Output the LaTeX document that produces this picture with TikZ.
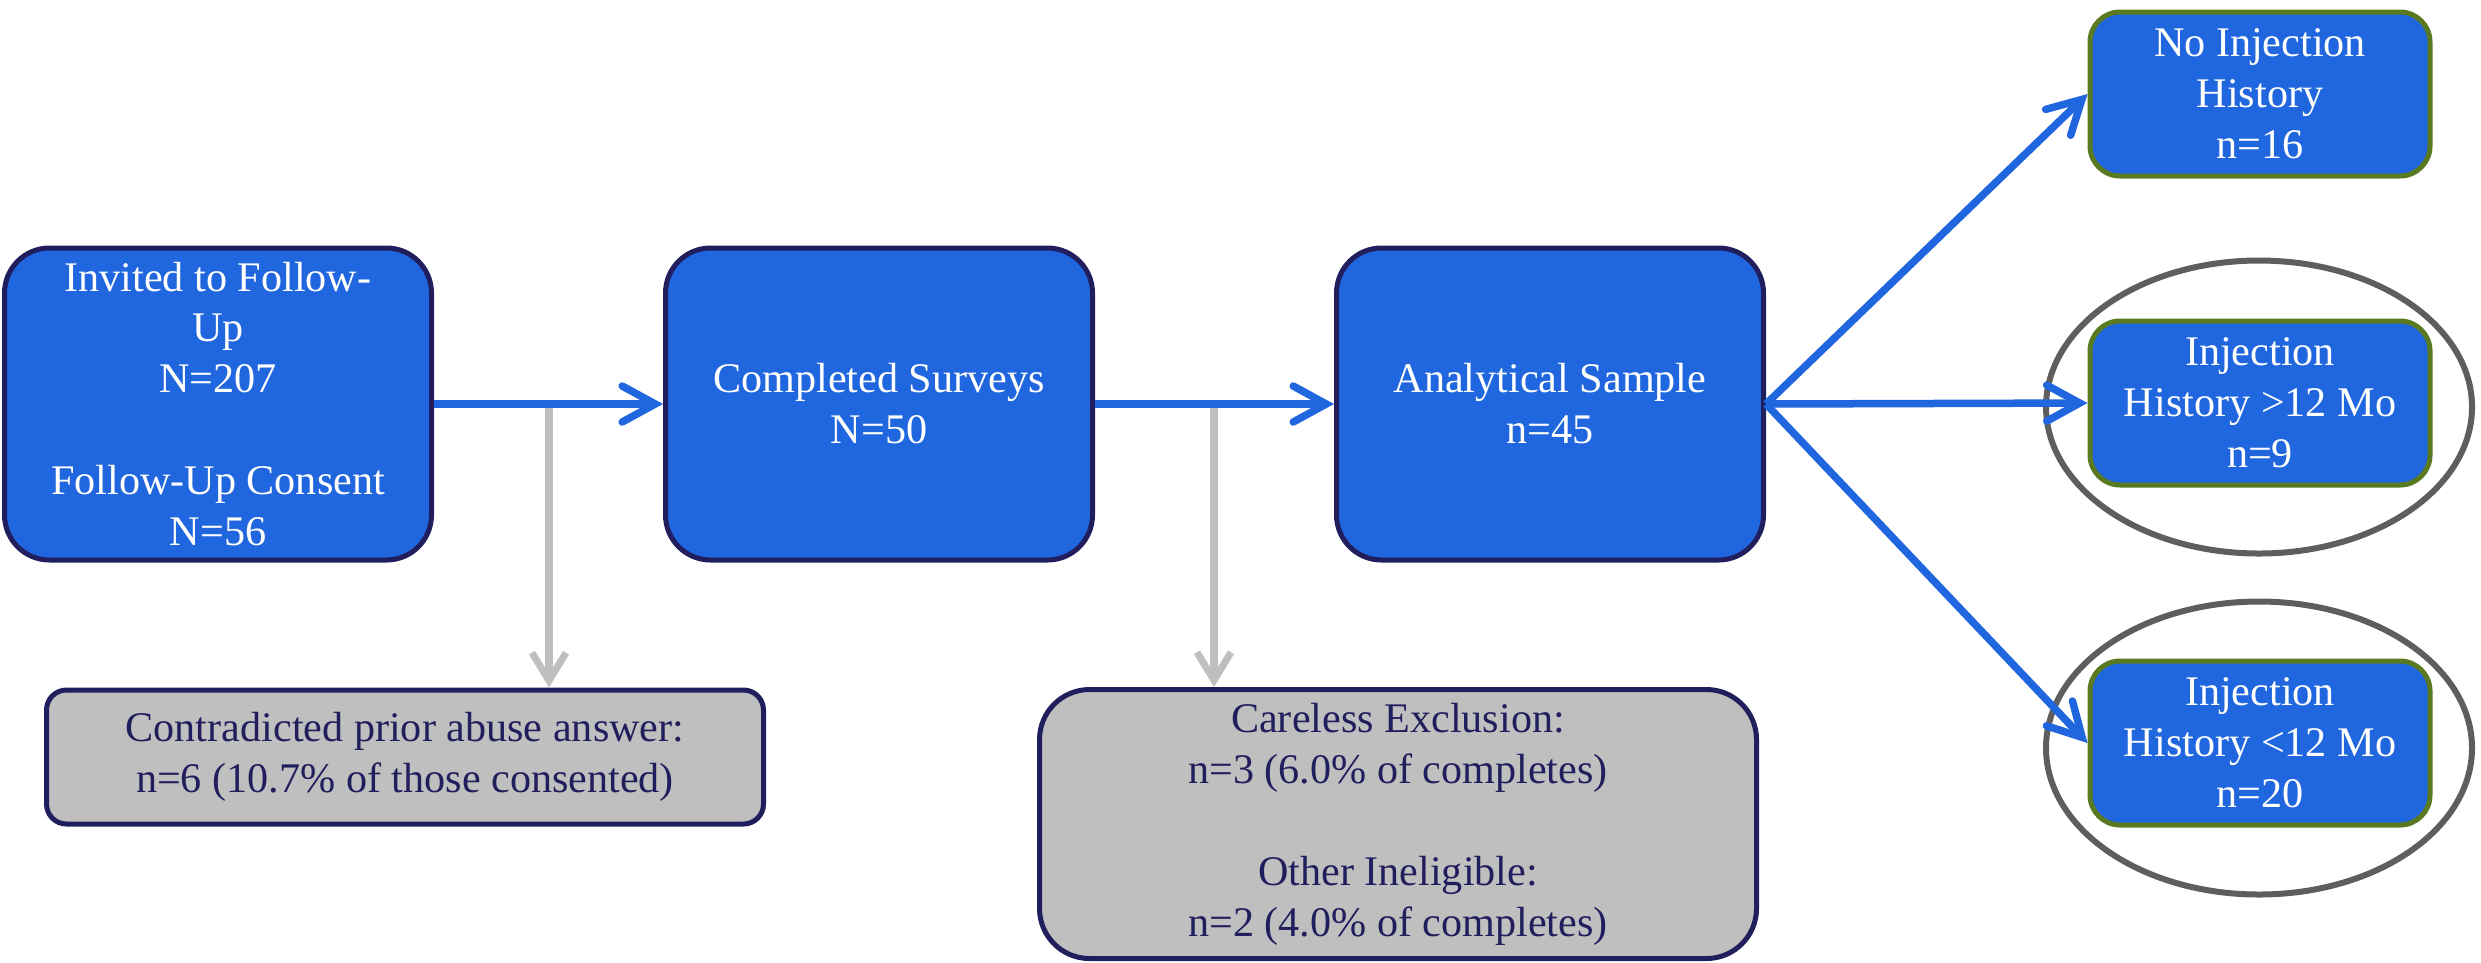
\documentclass[tikz,border=0pt]{standalone}
\usepackage{fontspec}
\setmainfont{Liberation Serif}
\usetikzlibrary{arrows.meta,shapes.geometric}
\definecolor{boxblue}{HTML}{2066DF}
\definecolor{navy}{HTML}{201E5C}
\definecolor{olive}{HTML}{5A7A22}
\definecolor{lgray}{HTML}{BFBFBF}
\definecolor{dgray}{HTML}{5E5E5E}
\tikzset{
  mainbox/.style={draw=navy, line width=0.5mm, fill=boxblue, text=white, rounded corners=4.5mm,
    align=center, inner sep=0pt, minimum width=42.7mm, minimum height=31.2mm,
    font=\fontsize{12}{14.5}\selectfont},
  graybox/.style={draw=navy, line width=0.5mm, fill=lgray, text=navy, align=center, inner sep=0pt,
    minimum width=71.7mm, font=\fontsize{12}{14.5}\selectfont},
  resbox/.style={draw=olive, line width=0.5mm, fill=boxblue, text=white, rounded corners=3mm,
    align=center, inner sep=0pt, minimum width=34mm, minimum height=16.4mm,
    font=\fontsize{12}{14.5}\selectfont},
  ring/.style={draw=dgray, line width=0.6mm, ellipse, inner sep=0pt, minimum width=42.6mm, minimum height=29.3mm},
  flow/.style={draw=boxblue, line width=0.75mm, -{Straight Barb[length=3.3mm,width=3.6mm,line width=0.75mm,line cap=round]}},
  drop/.style={draw=lgray, line width=0.75mm, -{Straight Barb[length=2.8mm,width=3.4mm,line width=0.7mm]}}
}
\begin{document}
\begin{tikzpicture}[x=0.1mm,y=-0.1mm]
\useasboundingbox (0,0) rectangle (2481,962);
% ellipses
\node[ring] (e1) at (2259,407) {};
\node[ring] (e2) at (2259,748) {};
% main boxes
\node[mainbox] (b1) at (218,404) {Invited to Follow-\\Up\\N=207\\[5.1mm]Follow-Up Consent\\N=56};
\node[mainbox] (b2) at (879,404) {Completed Surveys\\N=50};
\node[mainbox] (b3) at (1550,404) {Analytical Sample\\n=45};
% gray boxes
\node[graybox, rounded corners=2mm, minimum height=13.4mm] (g1) at (405,757) {Contradicted prior abuse answer:\\n=6 (10.7\% of those consented)};
\node[graybox, rounded corners=5mm, minimum height=26.9mm] (g2) at (1398,824) {Careless Exclusion:\\n=3 (6.0\% of completes)\\[5.1mm]Other Ineligible:\\n=2 (4.0\% of completes)};
% result boxes
\node[resbox] (r1) at (2260,94) {No Injection\\History\\n=16};
\node[resbox] (r2) at (2260,403) {Injection\\History >12 Mo\\n=9};
\node[resbox] (r3) at (2260,743) {Injection\\History <12 Mo\\n=20};
% connectors
\coordinate (d1) at (549,404);
\coordinate (d2) at (1214,404);
\draw[drop] (d1) -- (d1 |- g1.north);
\draw[drop] (d2) -- (d2 |- g2.north);
\draw[flow] (b1.east) -- (b2.west);
\draw[flow] (b2.east) -- (b3.west);
\draw[flow] (b3.east) -- (r1.west);
\draw[flow] (b3.east) -- (r2.west);
\draw[flow] (b3.east) -- (r3.west);
\end{tikzpicture}
\end{document}
